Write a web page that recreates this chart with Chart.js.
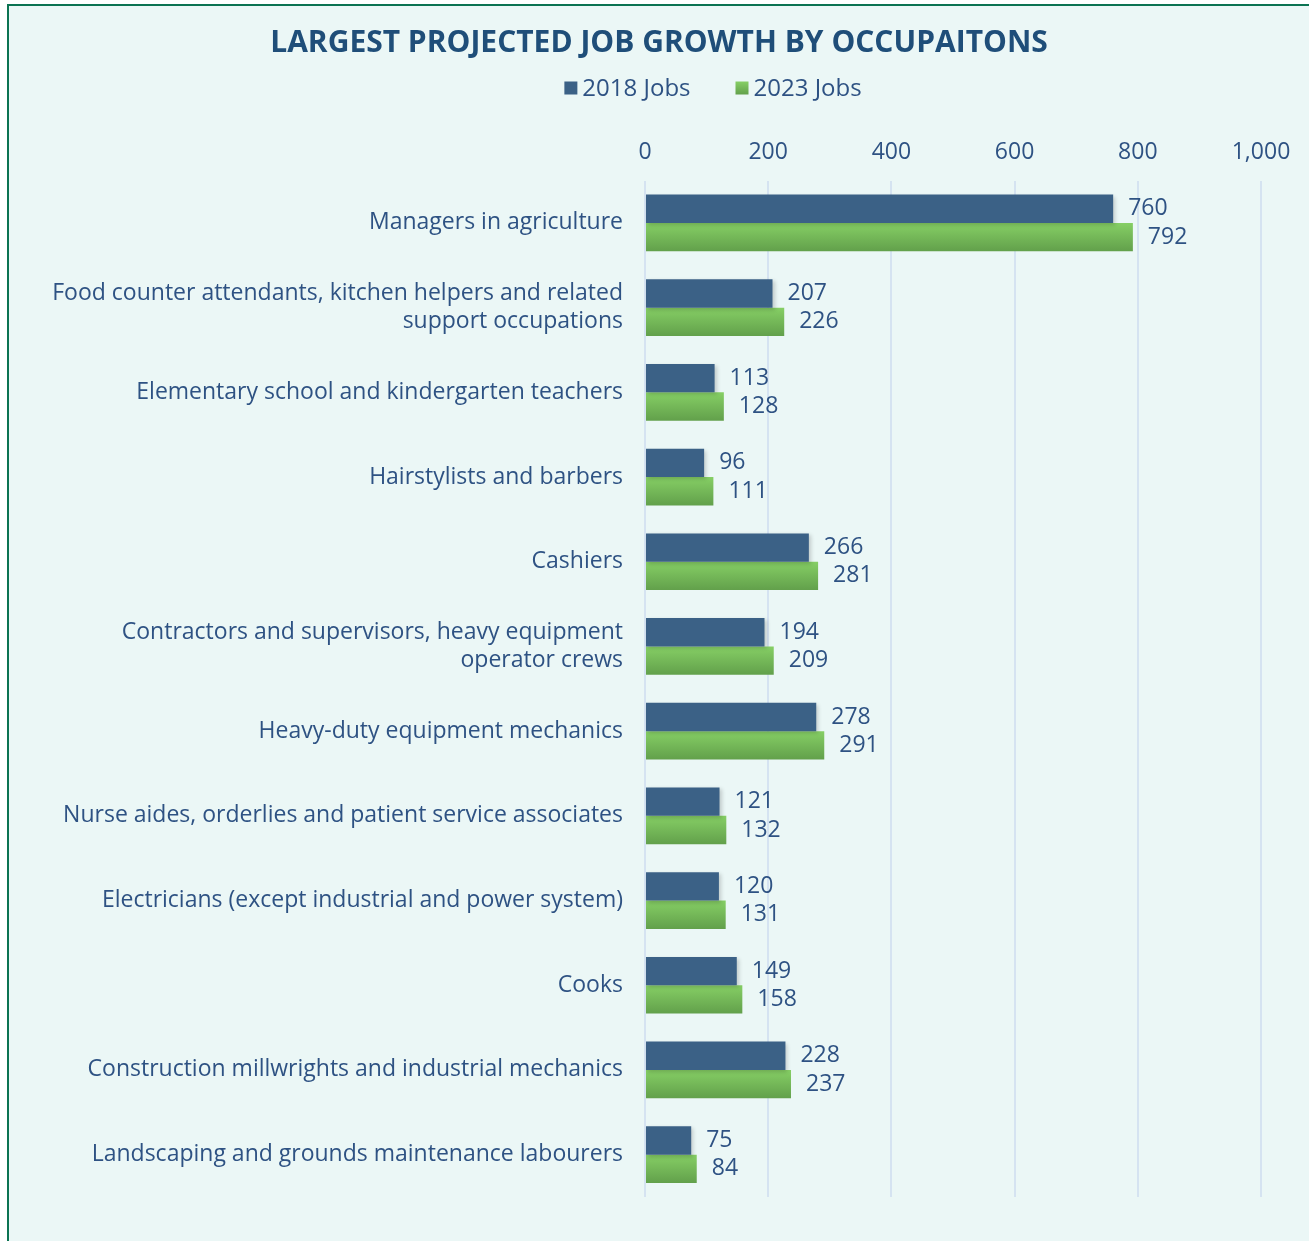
<!DOCTYPE html>
<html>
<head>
<meta charset="utf-8">
<title>Largest projected job growth by occupations</title>
<script src="https://cdn.jsdelivr.net/npm/chart.js@4.4.1/dist/chart.umd.min.js"></script>
<style>
  html, body { margin: 0; padding: 0; background: #ffffff; overflow: hidden; }
  body { width: 1309px; height: 1241px; position: relative; }
  .frame {
    position: absolute; left: 7px; top: 4px;
    width: 1400px; height: 1400px;
    background: #ebf7f6;
    border: 2px solid #0b7352;
  }
  #chart { position: absolute; left: 0; top: 0; }
</style>
</head>
<body>
<div class="frame"></div>
<canvas id="chart" width="1309" height="1241"></canvas>
<script>
// ---------------------------------------------
// DATA
// ---------------------------------------------
const chartTitle = "LARGEST PROJECTED JOB GROWTH BY OCCUPAITONS";
const occupations = [
    "Managers in agriculture",
    ["Food counter attendants, kitchen helpers and related", "support occupations"],
    "Elementary school and kindergarten teachers",
    "Hairstylists and barbers",
    "Cashiers",
    ["Contractors and supervisors, heavy equipment", "operator crews"],
    "Heavy-duty equipment mechanics",
    "Nurse aides, orderlies and patient service associates",
    "Electricians (except industrial and power system)",
    "Cooks",
    "Construction millwrights and industrial mechanics",
    "Landscaping and grounds maintenance labourers"
];
const jobs2018 = [760, 207, 113, 96, 266, 194, 278, 121, 120, 149, 228, 75];
const jobs2023 = [792, 226, 128, 111, 281, 209, 291, 132, 131, 158, 237, 84];
const seriesNames = ["2018 Jobs", "2023 Jobs"];
const axisMin = 0;
const axisMax = 1000;
const axisStep = 200;

// ---------------------------------------------
// STYLE
// ---------------------------------------------
const FONT = "'Open Sans', 'Lato', sans-serif";
const TEXT_COLOR = "#2e5283";
const TITLE_COLOR = "#1f4e79";
const BLUE = "#3b6186";
const GREEN_TOP = "#86cf65";
const GREEN_BOTTOM = "#62a04b";

function greenGradient(ctx, top, height) {
    const g = ctx.createLinearGradient(0, top, 0, top + height);
    g.addColorStop(0, GREEN_TOP);
    g.addColorStop(1, GREEN_BOTTOM);
    return g;
}

// Green bars get a top-to-bottom gradient, blue bars a soft drop shadow
const barEffects = {
    id: "barEffects",
    beforeDatasetDraw(chart, args) {
        const { ctx } = chart;
        ctx.save();
        if (args.index === 0) {
            ctx.shadowColor = "rgba(0, 0, 0, 0.18)";
            ctx.shadowBlur = 4;
            ctx.shadowOffsetX = 2;
            ctx.shadowOffsetY = 2;
        } else {
            args.meta.data.forEach(bar => {
                bar.options.backgroundColor = greenGradient(ctx, bar.y - bar.height / 2, bar.height);
            });
        }
    },
    afterDatasetDraw(chart) {
        chart.ctx.restore();
    }
};

// Value labels just past the end of each bar
const valueLabels = {
    id: "valueLabels",
    afterDatasetsDraw(chart) {
        const { ctx } = chart;
        ctx.save();
        ctx.font = `23px ${FONT}`;
        ctx.fillStyle = TEXT_COLOR;
        ctx.textAlign = "left";
        ctx.textBaseline = "middle";
        chart.data.datasets.forEach((ds, i) => {
            chart.getDatasetMeta(i).data.forEach((bar, j) => {
                ctx.fillText(ds.data[j].toString(), bar.x + 15, bar.y);
            });
        });
        ctx.restore();
    }
};

// Header: bold title plus a compact legend (squares set tight to the text)
const header = {
    id: "header",
    afterDraw(chart) {
        const { ctx } = chart;
        ctx.save();
        ctx.textBaseline = "middle";

        ctx.font = `bold 30px ${FONT}`;
        ctx.fillStyle = TITLE_COLOR;
        ctx.textAlign = "center";
        ctx.fillText(chartTitle, 659, 43);

        const box = 13, gap = 5, spacing = 45, cx = 713, cy = 88;
        ctx.font = `24px ${FONT}`;
        ctx.textAlign = "left";
        const widths = chart.data.datasets.map(ds => ctx.measureText(ds.label).width);
        const total = widths.reduce((s, w) => s + box + gap + w, 0) + spacing * (widths.length - 1);
        let x = cx - total / 2;
        chart.data.datasets.forEach((ds, i) => {
            ctx.fillStyle = i === 0 ? BLUE : greenGradient(ctx, cy - box / 2, box);
            ctx.fillRect(x, cy - box / 2, box, box);
            ctx.fillStyle = TEXT_COLOR;
            ctx.fillText(ds.label, x + box + gap, cy + 1);
            x += box + gap + widths[i] + spacing;
        });
        ctx.restore();
    }
};

const canvas = document.getElementById("chart");
new Chart(canvas, {
    type: "bar",
    data: {
        labels: occupations,
        datasets: [
            {
                label: seriesNames[0],
                data: jobs2018,
                backgroundColor: BLUE,
                categoryPercentage: 0.67,
                barPercentage: 1.0
            },
            {
                label: seriesNames[1],
                data: jobs2023,
                // scriptable so every bar keeps its own options object
                backgroundColor: () => GREEN_BOTTOM,
                categoryPercentage: 0.67,
                barPercentage: 1.0
            }
        ]
    },
    options: {
        indexAxis: "y",
        responsive: false,
        animation: false,
        devicePixelRatio: 1,
        layout: { padding: { top: 125, left: 0, right: 48, bottom: 44 } },
        plugins: {
            title: { display: false },
            legend: { display: false },
            tooltip: { enabled: false }
        },
        scales: {
            x: {
                position: "top",
                min: axisMin,
                max: axisMax,
                ticks: {
                    stepSize: axisStep,
                    color: TEXT_COLOR,
                    font: { family: FONT, size: 23 },
                    padding: 14,
                    callback: v => v.toLocaleString("en-US")
                },
                grid: { color: "#d5e3f1", lineWidth: 2, drawTicks: false },
                border: { display: false }
            },
            y: {
                ticks: {
                    color: TEXT_COLOR,
                    font: { family: FONT, size: 23 },
                    padding: 22,
                    autoSkip: false
                },
                grid: { display: false, drawTicks: false },
                border: { display: false },
                afterFit(scale) { scale.width = 645; }
            }
        }
    },
    plugins: [barEffects, valueLabels, header]
});
</script>
</body>
</html>
